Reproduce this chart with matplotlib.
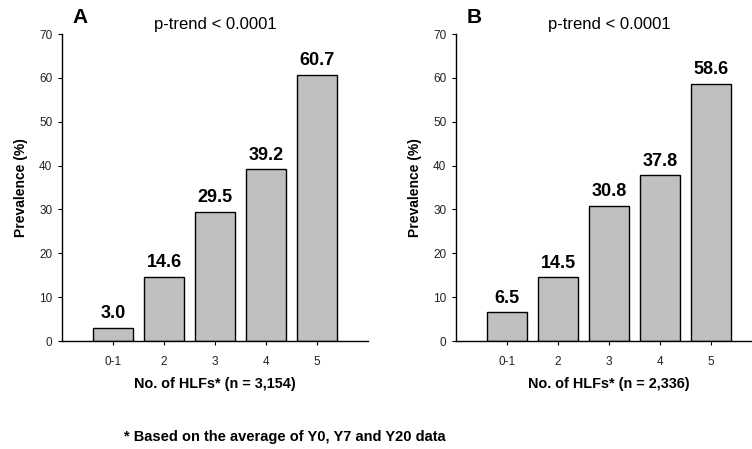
import matplotlib
matplotlib.use("Agg")
import matplotlib.pyplot as plt

categories = ["0-1", "2", "3", "4", "5"]
values_a = [3.0, 14.6, 29.5, 39.2, 60.7]
values_b = [6.5, 14.5, 30.8, 37.8, 58.6]
xlabel_a = "No. of HLFs* (n = 3,154)"
xlabel_b = "No. of HLFs* (n = 2,336)"
ylabel = "Prevalence (%)"
title = "p-trend < 0.0001"
footnote = "* Based on the average of Y0, Y7 and Y20 data"

plt.rcParams['font.family'] = ['Liberation Sans', 'DejaVu Sans']

W, H = 752, 449
fig = plt.figure(figsize=(W / 100, H / 100), dpi=100)

def make_ax(left_px, letter, values, xlabel, letter_x):
    ax = fig.add_axes([left_px / W, (H - 341) / H, 306 / W, 307 / H])
    x = list(range(len(categories)))
    ax.bar(x, values, width=0.8, color="#c0c0c0", edgecolor="black", linewidth=1.0)
    for xi, v in zip(x, values):
        ax.annotate(f"{v:.1f}", (xi, v), xytext=(0, 4), textcoords="offset points",
                    ha="center", va="bottom", fontsize=13, fontweight="bold")
    ax.set_xlim(-1, 5)
    ax.set_ylim(0, 70)
    ax.set_yticks(range(0, 71, 10))
    ax.set_xticks(x)
    ax.set_xticklabels(categories)
    ax.tick_params(axis="both", labelsize=8.5, length=3, width=0.8, direction="out",
                   colors="black", labelcolor="#222222", pad=4)
    ax.tick_params(axis="x", pad=8)
    for s in ["top", "right"]:
        ax.spines[s].set_visible(False)
    for s in ["left", "bottom"]:
        ax.spines[s].set_linewidth(1.0)
    ax.set_ylabel(ylabel, fontsize=10, fontweight="bold", labelpad=8)
    ax.set_xlabel(xlabel, fontsize=10.4, fontweight="bold", labelpad=6)
    ax.set_title(title, fontsize=12, pad=3.5)
    fig.text(letter_x / W, 1 - 17.5 / H, letter, fontsize=15, fontweight="bold",
             ha="left", va="center")
    return ax

make_ax(62, "A", values_a, xlabel_a, 72)
make_ax(456, "B", values_b, xlabel_b, 467)

fig.text(124 / W, 1 - 437 / H, footnote, fontsize=10.5, fontweight="bold",
         ha="left", va="center")

fig.savefig("out.png", dpi=100)
